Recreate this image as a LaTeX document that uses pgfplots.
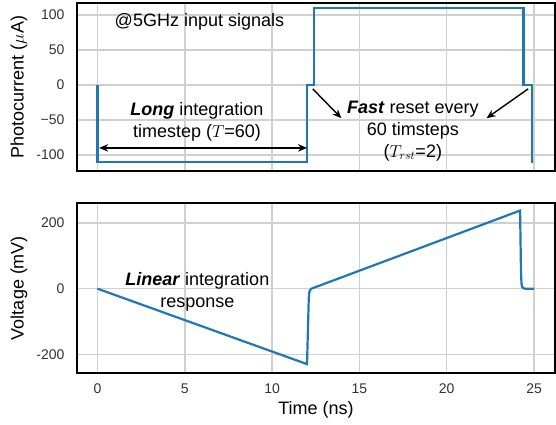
\documentclass[border=0pt]{standalone}
\usepackage{fontspec}
\setmainfont{Liberation Sans}
\usepackage{pgfplots}
\pgfplotsset{compat=1.18}
\usetikzlibrary{arrows.meta}
\definecolor{mplblue}{RGB}{31,119,180}
\definecolor{gridgray}{RGB}{208,208,208}

\pgfplotsset{
  panel/.style={
    scale only axis, width=478pt,
    xmin=-1.17, xmax=26.2,
    xtick={0,5,...,25},
    grid=major,
    major grid style={gridgray, line width=1.5pt},
    axis line style={black, line width=2pt},
    tick style={draw=none},
    tick label style={font=\fontsize{14}{16}\selectfont, color=black!80},
    /pgf/number format/assume math mode=true,
    every axis y label/.style={at={(axis description cs:0,0.5)}, xshift=-58pt,
      rotate=90, anchor=center, font=\fontsize{18}{21}\selectfont},
    yticklabel style={xshift=-9pt},
    xticklabel style={yshift=-7pt},
  },
}
\tikzset{
  annot/.style={font=\fontsize{18}{22}\selectfont, align=center, inner sep=0pt},
  arr/.style={line width=1.4pt, black, -{Stealth[length=9pt,width=7.5pt]}},
}

\begin{document}
\begin{tikzpicture}
\useasboundingbox (-77pt,-51pt) rectangle (479pt,373pt);

% photocurrent
\begin{axis}[panel, at={(0pt,202pt)}, anchor=south west,
    height=168pt, ymin=-123, ymax=117,
    ytick={-100,-50,0,50,100},
    yticklabels={-100,−50,0,50,100},
    xticklabels={},
    ylabel={Photocurrent ($\mu$A)}]
  \addplot[mplblue, line width=2.2pt] coordinates {
    (0,0) (0,-110) (12,-110) (12,0) (12.4,0) (12.4,110)
    (24.4,110) (24.4,0) (24.9,0) (24.9,-110) (24.95,-110)
  };
  \node[annot, anchor=west] at (axis cs:0.98,90) {@5GHz input signals};
  \node[annot] at (axis cs:5.7,-53) {\textbf{\textit{Long}} integration\\timestep ($T$=60)};
  \draw[line width=1.4pt, black, {Stealth[length=9pt,width=7.5pt]}-{Stealth[length=9pt,width=7.5pt]}]
    (axis cs:0.1,-90) -- (axis cs:12.0,-90);
  \node[annot] at (axis cs:18.06,-65.5) {\textbf{\textit{Fast}} reset every\\60 timsteps\\($T_{rst}$=2)};
  \draw[arr] (axis cs:12.33,-5.7) -- (axis cs:13.97,-47.6);
  \draw[arr] (axis cs:24.66,-5.7) -- (axis cs:22.28,-47.6);
\end{axis}

% voltage
\begin{axis}[panel, at={(0pt,0pt)}, anchor=south west,
    height=170pt, ymin=-256, ymax=260,
    ytick={-200,0,200},
    yticklabels={-200,0,200},
    xlabel={Time (ns)},
    ylabel={Voltage (mV)},
    every axis x label/.style={at={(axis description cs:0.5,0)}, yshift=-37pt,
      anchor=center, font=\fontsize{18}{21}\selectfont}]
  \addplot[mplblue, line width=2.2pt] coordinates {
    (0,0) (12,-229) (12.05,-130) (12.1,-30) (12.13,-12) (12.18,-4) (12.25,0)
    (24.2,237) (24.25,60) (24.28,15) (24.32,5) (24.4,1) (24.5,0) (25,0)
  };
  \node[annot] at (axis cs:5.72,-9) {\textbf{\textit{Linear}} integration\\response};
\end{axis}
\end{tikzpicture}
\end{document}
